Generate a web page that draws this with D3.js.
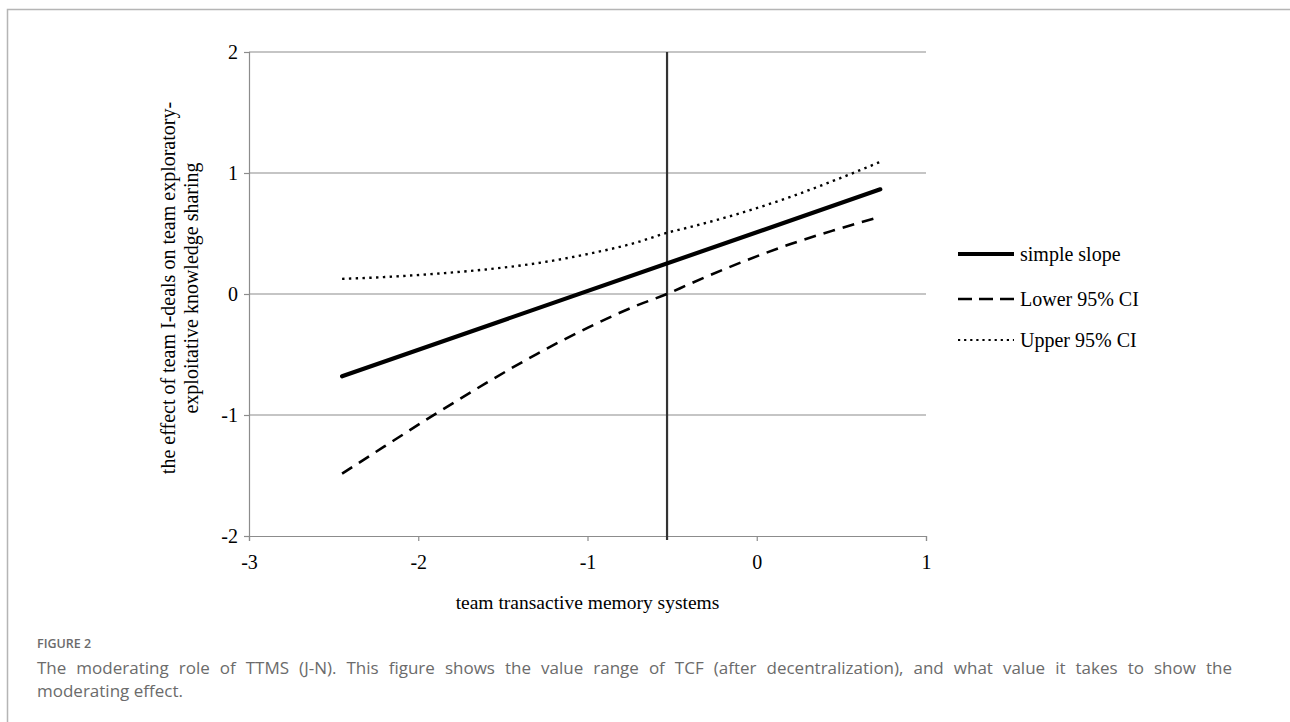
<!DOCTYPE html>
<html>
<head>
<meta charset="utf-8">
<script src="https://cdn.jsdelivr.net/npm/d3@7"></script>
<style>
  html, body { margin: 0; padding: 0; background: #fff; }
  svg { display: block; }
</style>
</head>
<body>
<svg id="chart" width="1290" height="722"></svg>
<script>
// ---------- data ----------
const xTicks = [-3, -2, -1, 0, 1];
const yTicks = [-2, -1, 0, 1, 2];
const seriesNames = ["simple slope", "Lower 95% CI", "Upper 95% CI"];

const slopeX = [-2.45, 0.73];
const slopeY = [-0.68, 0.865];

const ciX    = [-2.45, -2.2, -1.9, -1.6, -1.3, -1.0, -0.7, -0.53, -0.4, -0.1, 0.2, 0.45, 0.73];
const lowerY = [-1.485, -1.26, -0.993, -0.737, -0.496, -0.28, -0.09, 0.0, 0.081, 0.257, 0.413, 0.524, 0.638];
const upperY = [0.125, 0.14, 0.167, 0.203, 0.254, 0.33, 0.43, 0.506, 0.551, 0.667, 0.803, 0.934, 1.092];

const jnX = -0.53;

const axisXTitle = "team transactive memory systems";
const axisYTitle = ["the effect of team I-deals on team exploratory-", "exploitative knowledge sharing"];
const figLabel = "FIGURE 2";
const captionLines = [
  "The moderating role of TTMS (J-N). This figure shows the value range of TCF (after decentralization), and what value it takes to show the",
  "moderating effect."
];

// ---------- drawing ----------
const svg = d3.select("#chart");
const serif = "'Liberation Serif', 'Times New Roman', serif";
const sans = "'Open Sans', 'Noto Sans', sans-serif";
const fs = 20;

// frame
svg.append("path")
  .attr("d", "M7.5,723 L7.5,9.5 L1291,9.5")
  .attr("fill", "none").attr("stroke", "#b5b5b5").attr("stroke-width", 1.5);

const x = d3.scaleLinear().domain([-3, 1]).range([249, 926]);
const y = d3.scaleLinear().domain([-2, 2]).range([536, 52]);

// horizontal gridlines
svg.append("g").selectAll("line").data(yTicks.filter(d => d !== -2)).join("line")
  .attr("x1", x(-3)).attr("x2", x(1))
  .attr("y1", d => y(d)).attr("y2", d => y(d))
  .attr("stroke", "#8c8c8c").attr("stroke-width", 1.2);

const fmt = d => String(d);

// y axis
const yAxis = svg.append("g").attr("transform", `translate(${x(-3)},0)`)
  .call(d3.axisLeft(y).tickValues(yTicks).tickSize(5).tickPadding(6).tickFormat(fmt));
yAxis.select(".domain").attr("stroke", "#8c8c8c").attr("stroke-width", 1.2);
yAxis.selectAll(".tick line").attr("stroke", "#8c8c8c").attr("stroke-width", 1.2);
yAxis.selectAll("text").attr("font-family", serif).attr("font-size", fs).attr("fill", "#000");

// x axis
const xAxis = svg.append("g").attr("transform", `translate(0,${y(-2)})`)
  .call(d3.axisBottom(x).tickValues(xTicks).tickSize(5).tickPadding(14).tickFormat(fmt));
xAxis.select(".domain").attr("stroke", "#8c8c8c").attr("stroke-width", 1.2);
xAxis.selectAll(".tick line").attr("stroke", "#8c8c8c").attr("stroke-width", 1.2);
xAxis.selectAll("text").attr("font-family", serif).attr("font-size", fs).attr("fill", "#000");

// J-N vertical line
svg.append("line")
  .attr("x1", x(jnX)).attr("x2", x(jnX))
  .attr("y1", y(2)).attr("y2", y(-2) + 4)
  .attr("stroke", "#333").attr("stroke-width", 2.2);

const line = d3.line().x(d => x(d[0])).y(d => y(d[1])).curve(d3.curveMonotoneX);

svg.append("path").datum(d3.zip(ciX, lowerY)).attr("d", line)
  .attr("fill", "none").attr("stroke", "#000").attr("stroke-width", 2.6)
  .attr("stroke-dasharray", "12,8");

svg.append("path").datum(d3.zip(ciX, upperY)).attr("d", line)
  .attr("fill", "none").attr("stroke", "#000").attr("stroke-width", 2.4)
  .attr("stroke-dasharray", "2.4,4.4");

svg.append("path").datum(d3.zip(slopeX, slopeY)).attr("d", line)
  .attr("fill", "none").attr("stroke", "#000").attr("stroke-width", 4.2)
  .attr("stroke-linecap", "round");

// legend
const legY = [254, 299, 340];
const legStyles = [
  {w: 4.2, dash: null},
  {w: 2.6, dash: "14,7"},
  {w: 2.2, dash: "2.2,3.9"}
];
const leg = svg.append("g");
seriesNames.forEach((name, i) => {
  leg.append("line")
    .attr("x1", 958).attr("x2", 1014)
    .attr("y1", legY[i]).attr("y2", legY[i])
    .attr("stroke", "#000").attr("stroke-width", legStyles[i].w)
    .attr("stroke-dasharray", legStyles[i].dash);
  leg.append("text")
    .attr("x", 1020).attr("y", legY[i] + 6.5)
    .attr("font-family", serif).attr("font-size", fs).attr("fill", "#000")
    .text(name);
});

// axis titles
svg.append("text")
  .attr("x", (x(-3) + x(1)) / 2).attr("y", 609)
  .attr("text-anchor", "middle")
  .attr("font-family", serif).attr("font-size", 19.5).attr("fill", "#000")
  .text(axisXTitle);

const yt = svg.append("text")
  .attr("transform", `translate(175,${(y(2) + y(-2)) / 2 - 6}) rotate(-90)`)
  .attr("text-anchor", "middle")
  .attr("font-family", serif).attr("font-size", fs).attr("fill", "#000");
axisYTitle.forEach((t, i) => {
  yt.append("tspan").attr("x", 0).attr("dy", i === 0 ? 0 : 23).text(t);
});

// caption
svg.append("text")
  .attr("x", 37).attr("y", 648)
  .attr("font-family", sans).attr("font-size", 12.5).attr("font-weight", 600)
  .attr("fill", "#6b6b6b").text(figLabel);

captionLines.forEach((t, i) => {
  const tx = svg.append("text")
    .attr("x", 37).attr("y", 674 + i * 23)
    .attr("font-family", sans).attr("font-size", 17).attr("fill", "#6b6b6b")
    .text(t);
  if (i === 0) {
    // justified first line (as in the journal caption)
    const natural = tx.node().getComputedTextLength();
    const spaces = (t.match(/ /g) || []).length;
    const target = 1232 - 37;
    if (natural < target) tx.attr("word-spacing", (target - natural) / spaces);
  }
});
</script>
</body>
</html>
